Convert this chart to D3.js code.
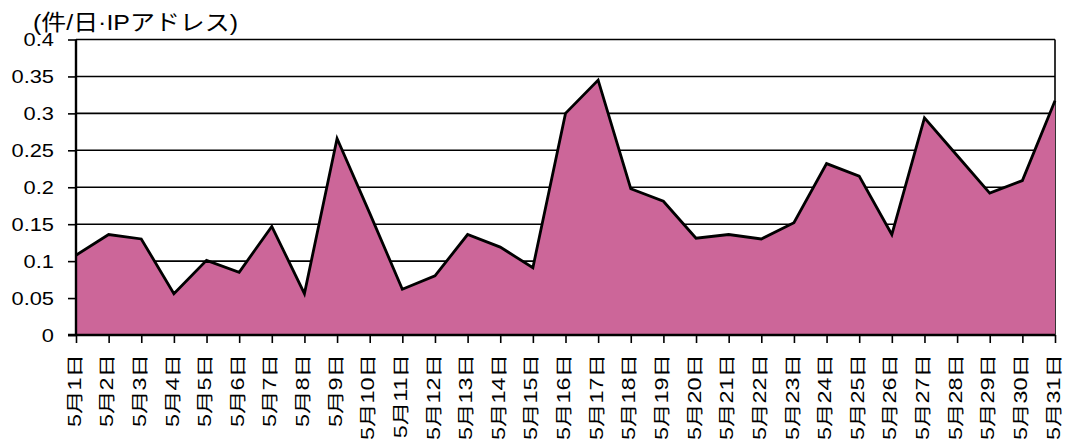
<!DOCTYPE html>
<html>
<head>
<meta charset="utf-8">
<script src="https://cdn.jsdelivr.net/npm/d3@7"></script>
<style>
  body { margin: 0; background: #fff; }
  svg { display: block; }
  text { font-family: "Liberation Sans", Arial, "Noto Sans CJK JP", sans-serif; fill: #000; }
</style>
</head>
<body>
<div id="chart"></div>
<script>
// categories (x axis)
var categories = ['5月1日', '5月2日', '5月3日', '5月4日', '5月5日', '5月6日', '5月7日', '5月8日',
  '5月9日', '5月10日', '5月11日', '5月12日', '5月13日', '5月14日', '5月15日', '5月16日',
  '5月17日', '5月18日', '5月19日', '5月20日', '5月21日', '5月22日', '5月23日', '5月24日',
  '5月25日', '5月26日', '5月27日', '5月28日', '5月29日', '5月30日', '5月31日'];

// counts per day per IP address
var values = [0.108, 0.136, 0.130, 0.056, 0.101, 0.085, 0.147, 0.056, 0.266, 0.165, 0.062,
  0.080, 0.136, 0.119, 0.091, 0.300, 0.345, 0.198, 0.181, 0.131, 0.136, 0.130,
  0.152, 0.232, 0.215, 0.136, 0.294, 0.243, 0.192, 0.209, 0.317];

var yTicks = [0, 0.05, 0.1, 0.15, 0.2, 0.25, 0.3, 0.35, 0.4];
var yTickLabels = ['0', '0.05', '0.1', '0.15', '0.2', '0.25', '0.3', '0.35', '0.4'];
var unitLabel = '(件/日·IPアドレス)';

var chart = (function() {

  var config = {
    width: 1073,
    height: 444,
    left: 76,
    right: 1055,
    top: 39.5,
    bottom: 335,
    fill: '#cc6699'
  };
  var svg, x, y;

  function init() {
    svg = d3.select('#chart').append('svg')
      .attr('width', config.width)
      .attr('height', config.height);

    x = d3.scalePoint().domain(categories).range([config.left, config.right]).padding(0);
    y = d3.scaleLinear().domain([0, 0.4]).range([config.bottom, config.top]);

    drawGrid();
    drawArea();
    drawAxes();
    drawTitle();
  }

  function drawGrid() {
    svg.append('g').selectAll('line').data(yTicks.slice(1)).enter().append('line')
      .attr('x1', config.left).attr('x2', config.right)
      .attr('y1', function(d) { return y(d); })
      .attr('y2', function(d) { return y(d); })
      .attr('stroke', '#000')
      .attr('stroke-width', 1.6);

    // right border of plot area
    svg.append('line')
      .attr('x1', config.right).attr('x2', config.right)
      .attr('y1', config.top).attr('y2', config.bottom)
      .attr('stroke', '#000').attr('stroke-width', 1.6);
  }

  function drawArea() {
    var area = d3.area()
      .x(function(d, i) { return x(categories[i]); })
      .y0(y(0))
      .y1(function(d) { return y(d); });

    var line = d3.line()
      .x(function(d, i) { return x(categories[i]); })
      .y(function(d) { return y(d); });

    svg.append('path').datum(values)
      .attr('d', area)
      .attr('fill', config.fill);

    svg.append('path').datum(values)
      .attr('d', line)
      .attr('fill', 'none')
      .attr('stroke', '#000')
      .attr('stroke-width', 2.8)
      .attr('stroke-linejoin', 'miter');
  }

  function drawAxes() {
    var yAxis = d3.axisLeft(y)
      .tickValues(yTicks)
      .tickFormat(function(d, i) { return yTickLabels[i]; })
      .tickSize(8);

    var gy = svg.append('g')
      .attr('transform', 'translate(' + config.left + ',0)')
      .call(yAxis);
    gy.select('.domain').remove();
    gy.selectAll('.tick line').attr('stroke', '#000').attr('stroke-width', 1.6);
    gy.selectAll('.tick text')
      .attr('font-size', 19)
      .attr('font-family', '"Liberation Sans", Arial, sans-serif')
      .attr('fill', '#000')
      .attr('x', 0)
      .attr('transform', 'translate(-22,0) scale(1.15,1)');

    var xAxis = d3.axisBottom(x).tickSize(8).tickPadding(0);
    var gx = svg.append('g')
      .attr('transform', 'translate(0,' + config.bottom + ')')
      .call(xAxis);
    gx.select('.domain').remove();
    gx.selectAll('.tick line').attr('stroke', '#000').attr('stroke-width', 1.6);
    gx.selectAll('.tick text')
      .attr('font-size', 17.5)
      .attr('font-family', '"Liberation Sans", Arial, "Noto Sans CJK JP", sans-serif')
      .attr('fill', '#000')
      .attr('text-anchor', 'end')
      .attr('y', 0)
      .attr('dy', '0.35em')
      .attr('transform', 'translate(-2,19) rotate(-90) scale(1.34,1)');

    // axis lines
    svg.append('line')
      .attr('x1', config.left).attr('x2', config.left)
      .attr('y1', config.top).attr('y2', config.bottom)
      .attr('stroke', '#000').attr('stroke-width', 2.4);
    svg.append('line')
      .attr('x1', config.left - 8).attr('x2', config.right)
      .attr('y1', config.bottom).attr('y2', config.bottom)
      .attr('stroke', '#000').attr('stroke-width', 2.4);
  }

  function drawTitle() {
    svg.append('text')
      .attr('x', 33)
      .attr('y', 30)
      .attr('font-size', 22)
      .attr('textLength', 205)
      .attr('lengthAdjust', 'spacingAndGlyphs')
      .attr('font-family', '"Liberation Sans", Arial, "Noto Sans CJK JP", sans-serif')
      .text(unitLabel);
  }

  return {
    init: init
  };

})();

(function() {
  chart.init();
})();
</script>
</body>
</html>
